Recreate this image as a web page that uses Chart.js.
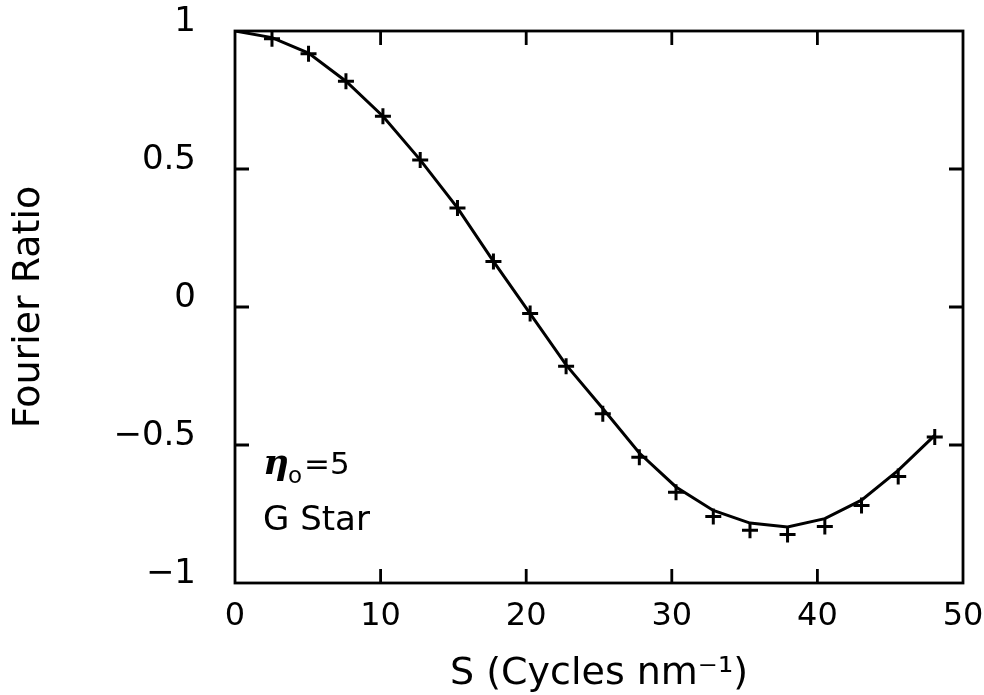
<!DOCTYPE html>
<html>
<head>
<meta charset="utf-8">
<script src="https://cdn.jsdelivr.net/npm/chart.js@4"></script>
<style>
  html, body { margin: 0; padding: 0; background: #fff; }
</style>
</head>
<body>
<canvas id="ratio" width="984" height="695"></canvas>
<script>
// measured points (crosses) and the fitted curve
const sMeasured = [2.54, 5.05, 7.62, 10.16, 12.72, 15.28, 17.75, 20.27, 22.74, 25.26,
                   27.77, 30.29, 32.85, 35.37, 37.95, 40.51, 43.03, 45.55, 48.06];
const ratioMeasured = [0.972, 0.918, 0.818, 0.691, 0.533, 0.359, 0.165, -0.024, -0.215, -0.387,
                       -0.544, -0.671, -0.759, -0.809, -0.824, -0.795, -0.719, -0.614, -0.471];

const sCurve = [0, 2.54, 5.05, 7.62, 10.16, 12.72, 15.28, 17.75, 20.27, 22.74, 25.26,
                27.77, 30.29, 32.85, 35.37, 37.95, 40.51, 43.03, 45.55, 48.06];
const ratioCurve = [1.0, 0.976, 0.92, 0.818, 0.691, 0.533, 0.359, 0.165, -0.024, -0.21, -0.368,
                    -0.529, -0.652, -0.737, -0.783, -0.797, -0.767, -0.70, -0.592, -0.465];

const xTicks = [0, 10, 20, 30, 40, 50];
const yTicks = [-1, -0.5, 0, 0.5, 1];

const sans = '"DejaVu Sans", sans-serif';

// box around the plot with inward tick marks, plus the label in the corner
const frameTicks = {
  id: 'frameTicks',
  afterDraw(chart) {
    const { ctx, chartArea: a, scales: { x, y } } = chart;
    const len = 14;
    ctx.save();
    ctx.strokeStyle = '#000';
    ctx.lineWidth = 2.8;
    ctx.lineCap = 'butt';
    ctx.strokeRect(a.left, a.top, a.right - a.left, a.bottom - a.top);
    ctx.beginPath();
    x.ticks.forEach(t => {
      if (t.value <= x.min || t.value >= x.max) return;
      const px = x.getPixelForValue(t.value);
      ctx.moveTo(px, a.bottom); ctx.lineTo(px, a.bottom - len);
      ctx.moveTo(px, a.top); ctx.lineTo(px, a.top + len);
    });
    y.ticks.forEach(t => {
      if (t.value <= y.min || t.value >= y.max) return;
      const py = y.getPixelForValue(t.value);
      ctx.moveTo(a.left, py); ctx.lineTo(a.left + len, py);
      ctx.moveTo(a.right, py); ctx.lineTo(a.right - len, py);
    });
    ctx.stroke();

    ctx.fillStyle = '#000';
    ctx.textBaseline = 'alphabetic';
    ctx.textAlign = 'left';
    const lx = a.left + 28;
    ctx.font = 'italic bold 36px "DejaVu Serif"';
    ctx.fillText('\u03b7', lx, a.top + 443);
    ctx.font = '23px ' + sans;
    ctx.fillText('o', lx + 25, a.top + 452);
    ctx.font = '31px ' + sans;
    ctx.fillText('=5', lx + 41, a.top + 443);
    ctx.font = '34px ' + sans;
    ctx.fillText('G Star', lx, a.top + 499);
    ctx.restore();
  }
};

new Chart(document.getElementById('ratio').getContext('2d'), {
  type: 'scatter',
  data: {
    datasets: [{
      label: 'curve',
      data: sCurve.map((s, i) => ({ x: s, y: ratioCurve[i] })),
      showLine: true,
      tension: 0,
      borderColor: '#000',
      borderWidth: 3,
      pointRadius: 0
    }, {
      label: 'measured',
      data: sMeasured.map((s, i) => ({ x: s, y: ratioMeasured[i] })),
      pointStyle: 'cross',
      pointRadius: 8,
      borderColor: '#000',
      borderWidth: 3
    }]
  },
  options: {
    responsive: false,
    animation: false,
    layout: { padding: { top: 31, right: 21, left: 0, bottom: 0 } },
    plugins: {
      legend: { display: false },
      tooltip: { enabled: false }
    },
    scales: {
      x: {
        type: 'linear',
        min: 0,
        max: 50,
        afterBuildTicks: axis => { axis.ticks = xTicks.map(v => ({ value: v })); },
        afterFit: axis => {
          axis.height = 112;
          axis.paddingLeft = 0;
          axis.paddingRight = 0;
        },
        grid: { display: false },
        border: { display: false },
        ticks: { color: '#000', padding: 6, font: { family: sans, size: 32 } },
        title: {
          display: true,
          text: 'S (Cycles nm\u207b\u00b9)',
          color: '#000',
          font: { family: sans, size: 38, lineHeight: 1 },
          padding: { top: 0, bottom: 2 }
        }
      },
      y: {
        type: 'linear',
        min: -1,
        max: 1,
        afterBuildTicks: axis => { axis.ticks = yTicks.map(v => ({ value: v })); },
        afterFit: axis => {
          axis.width = 235;
          axis.paddingTop = 0;
          axis.paddingBottom = 0;
        },
        grid: { display: false },
        border: { display: false },
        ticks: {
          color: '#000',
          padding: 31,
          labelOffset: -9,
          font: { family: sans, size: 34 },
          callback: v => String(v).replace('-', '\u2212')
        },
        title: {
          display: true,
          text: 'Fourier Ratio',
          color: '#000',
          font: { family: sans, size: 38 },
          padding: { top: 6, bottom: 0 }
        }
      }
    }
  },
  plugins: [frameTicks]
});
</script>
</body>
</html>
